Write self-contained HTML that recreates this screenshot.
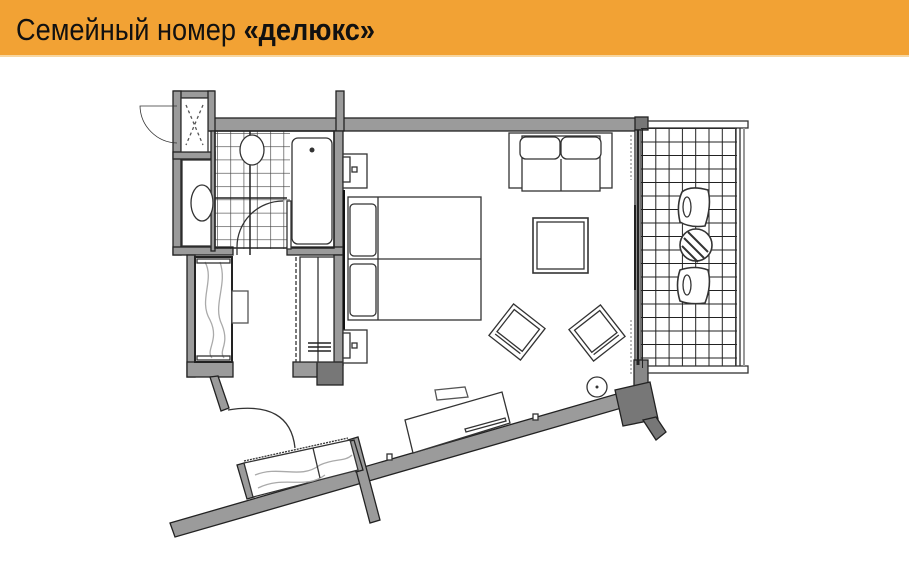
<!DOCTYPE html>
<html><head><meta charset="utf-8"><style>
html,body{margin:0;padding:0;background:#fff;}
svg{display:block}
</style></head><body>
<svg width="909" height="576" viewBox="0 0 909 576" xmlns="http://www.w3.org/2000/svg">
<defs>
<pattern id="tiles" x="217" y="133" width="13.3" height="13.3" patternUnits="userSpaceOnUse">
<path d="M0 0V13.3M0 0H13.3" stroke="#444" stroke-width="1.3" fill="none"/>
</pattern>
<pattern id="bal" x="642" y="128" width="13.3" height="13.5" patternUnits="userSpaceOnUse">
<path d="M0 0V13.5M0 0H13.3" stroke="#222" stroke-width="2" fill="none"/>
</pattern>
</defs>
<rect x="0" y="0" width="909" height="55" fill="#f2a234"/>
<rect x="0" y="55" width="909" height="2" fill="#f7d6a0"/>
<text x="16" y="40" font-family="Liberation Sans, sans-serif" font-size="31" fill="#111" textLength="359" lengthAdjust="spacingAndGlyphs">Семейный номер <tspan font-weight="bold">«делюкс»</tspan></text>

<g stroke="#222" stroke-width="1.3" fill="#9b9b9b">
<rect x="208" y="118" width="430" height="13"/>
<rect x="336" y="91" width="8" height="40"/>
<rect x="635" y="117" width="13" height="13" fill="#777"/>
<rect x="174" y="91" width="40" height="7"/>
<rect x="208" y="91" width="7" height="40"/>
<rect x="173" y="91" width="8" height="164"/>
<rect x="173" y="152" width="42" height="7"/>
<rect x="334" y="131" width="9" height="124"/>
<rect x="173" y="247" width="60" height="8"/>
<rect x="287" y="247" width="56" height="8"/>
<rect x="211" y="131" width="4" height="120"/>
<rect x="187" y="255" width="8" height="122"/>
<rect x="187" y="362" width="46" height="15"/>
<rect x="334" y="255" width="9" height="110"/>
<rect x="293" y="362" width="26" height="15"/>
<rect x="317" y="362" width="26" height="23" fill="#777"/>
<polygon points="210,377 218,376 229,408 221,411"/>
<polygon points="170,523 620,393 625,407 175,537"/>
<polygon points="348,440 358,437 380,520 370,523"/>
<rect x="635" y="130" width="6" height="245" fill="#fff"/>
<rect x="634" y="360" width="14" height="30" fill="#888"/>
<polygon points="615,390 650,382 658,419 623,426" fill="#777"/>
<polygon points="643,420 656,417 666,432 656,440" fill="#777"/>
<polygon points="237,465 244,463 254,497 247,499"/>
<polygon points="347,442 354,440 363,470 356,472"/>
</g>
<line x1="638" y1="130" x2="638" y2="365" stroke="#222" stroke-width="3"/>
<line x1="635" y1="205" x2="635" y2="290" stroke="#222" stroke-width="2"/>
<line x1="631" y1="135" x2="631" y2="180" stroke="#777" stroke-dasharray="2,2"/>
<line x1="631" y1="320" x2="631" y2="375" stroke="#777" stroke-dasharray="2,2"/>

<g stroke-width="1.3">
<rect x="181" y="98" width="27" height="54" fill="#fff" stroke="#333"/>
<path d="M186 105L203 145M203 105L186 145" stroke="#555" stroke-dasharray="3,3"/>
<path d="M177 106 L140 106 A38 38 0 0 0 177 143" fill="none" stroke="#333" stroke-width="0.8"/>

<rect x="215" y="131" width="75" height="118" fill="url(#tiles)"/>
<rect x="215" y="131" width="119" height="117" fill="none" stroke="#222" stroke-width="1.5"/>
<line x1="250" y1="131" x2="250" y2="255" stroke="#222" stroke-width="1.5"/>
<line x1="215" y1="198" x2="287" y2="198" stroke="#222" stroke-width="1.5"/>
<ellipse cx="252" cy="150" rx="12" ry="15" fill="#fff" stroke="#333"/>
<rect x="182" y="160" width="29" height="86" fill="#fff" stroke="#333"/>
<ellipse cx="202" cy="203" rx="11" ry="18" fill="#fff" stroke="#333"/>
<rect x="292" y="138" width="40" height="106" rx="6" fill="#fff" stroke="#333"/>
<circle cx="312" cy="150" r="2.5" fill="#333"/>
<rect x="287" y="201" width="4" height="48" fill="#fff" stroke="#333"/>
<path d="M237 247 A46 46 0 0 1 283 201" fill="none" stroke="#333"/>
<line x1="237" y1="247" x2="237" y2="255" stroke="#333"/>

<rect x="195" y="257" width="37" height="105" fill="#fff" stroke="#222" stroke-width="2"/>
<path d="M205 262 C215 280 198 300 210 320 C220 340 205 350 212 358" fill="none" stroke="#aaa"/>
<path d="M220 262 C228 285 212 305 222 325 C230 345 218 350 224 358" fill="none" stroke="#aaa"/>
<rect x="197" y="259" width="33" height="4" fill="none" stroke="#333"/>
<rect x="197" y="356" width="33" height="4" fill="none" stroke="#333"/>
<rect x="232" y="291" width="16" height="32" fill="#fff" stroke="#555"/>

<rect x="300" y="257" width="34" height="105" fill="#fff" stroke="#333"/>
<line x1="318" y1="257" x2="318" y2="362" stroke="#333"/>
<line x1="296" y1="257" x2="296" y2="362" stroke="#333" stroke-dasharray="4,2"/>
<path d="M308 343H331M308 347H331M308 351H331" stroke="#222" stroke-width="1.4"/>
<line x1="344" y1="190" x2="344" y2="330" stroke="#111" stroke-width="2"/>

<rect x="348" y="197" width="133" height="123" fill="#fff" stroke="#333"/>
<line x1="348" y1="259" x2="481" y2="259" stroke="#333"/>
<line x1="378" y1="197" x2="378" y2="320" stroke="#333"/>
<rect x="350" y="204" width="26" height="52" rx="4" fill="#fff" stroke="#333"/>
<rect x="350" y="264" width="26" height="52" rx="4" fill="#fff" stroke="#333"/>
<rect x="343" y="154" width="24" height="34" fill="#fff" stroke="#333"/>
<rect x="343" y="157" width="7" height="25" fill="#fff" stroke="#333"/>
<rect x="352" y="167" width="5" height="5" fill="#fff" stroke="#333"/>
<rect x="343" y="330" width="24" height="33" fill="#fff" stroke="#333"/>
<rect x="343" y="333" width="7" height="25" fill="#fff" stroke="#333"/>
<rect x="352" y="343" width="5" height="5" fill="#fff" stroke="#333"/>

<rect x="509" y="133" width="103" height="55" fill="#fff" stroke="#333"/>
<rect x="522" y="136" width="78" height="55" fill="#fff" stroke="#333"/>
<rect x="520" y="137" width="40" height="22" rx="6" fill="#fff" stroke="#333"/>
<rect x="561" y="137" width="40" height="22" rx="6" fill="#fff" stroke="#333"/>
<line x1="561" y1="159" x2="561" y2="191" stroke="#333"/>

<rect x="533" y="218" width="55" height="55" fill="#fff" stroke="#333" stroke-width="1.6"/>
<rect x="537" y="222" width="47" height="47" fill="#fff" stroke="#333"/>

<g transform="translate(517,332) rotate(38)">
<rect x="-20" y="-20" width="40" height="40" fill="#fff" stroke="#333"/>
<rect x="-16" y="-16" width="32" height="28" fill="#fff" stroke="#333"/>
<line x1="-16" y1="15" x2="16" y2="15" stroke="#333"/>
</g>
<g transform="translate(597,333) rotate(-38)">
<rect x="-20" y="-20" width="40" height="40" fill="#fff" stroke="#333"/>
<rect x="-16" y="-16" width="32" height="28" fill="#fff" stroke="#333"/>
<line x1="-16" y1="15" x2="16" y2="15" stroke="#333"/>
</g>
<circle cx="597" cy="387" r="10" fill="#fff" stroke="#333"/>
<circle cx="597" cy="387" r="1.5" fill="#333"/>

<polygon points="435,390 465,387 468,397 437,400" fill="#fff" stroke="#555"/>
<polygon points="405,420 502,392 510,423 413,453" fill="#fff" stroke="#333"/>
<polygon points="465,429 505,418 506,421 466,432" fill="#fff" stroke="#333"/>
<rect x="387" y="454" width="5" height="6" fill="#fff" stroke="#333"/>
<rect x="533" y="414" width="5" height="6" fill="#fff" stroke="#333"/>

<path d="M228 410 Q290 400 295 448" fill="none" stroke="#333"/>
<polygon points="244,463 350,440 358,470 253,497" fill="#fff" stroke="#333"/>
<path d="M255 475 C280 465 300 480 320 465 C335 458 345 462 352 455" fill="none" stroke="#aaa"/>
<path d="M258 488 C285 475 305 490 325 475" fill="none" stroke="#aaa"/>
<line x1="313" y1="448" x2="320" y2="478" stroke="#333"/>
<line x1="244" y1="461" x2="348" y2="438" stroke="#333" stroke-dasharray="2,1"/>

<rect x="641" y="128" width="96" height="240" fill="url(#bal)"/>
<rect x="648" y="121" width="100" height="7" fill="#fff" stroke="#333"/>
<rect x="648" y="366" width="100" height="7" fill="#fff" stroke="#333"/>
<line x1="736" y1="128" x2="736" y2="366" stroke="#333"/>
<line x1="740" y1="128" x2="740" y2="366" stroke="#333"/>
<line x1="744" y1="128" x2="744" y2="366" stroke="#999" stroke-width="2"/>
<path d="M682 192 Q690 185 708 190 Q712 205 705 226 Q690 228 680 222 Q676 205 682 192Z" fill="#fff" stroke="#333" stroke-width="1.6"/>
<ellipse cx="687" cy="207" rx="4" ry="10" fill="none" stroke="#333"/>
<circle cx="696" cy="245" r="16" fill="#fff" stroke="#333" stroke-width="1.6"/>
<path d="M684 238L704 258M682 246L698 262M688 232L708 252" stroke="#333" stroke-width="2"/>
<path d="M680 270 Q695 265 708 270 Q712 285 705 303 Q690 305 680 301 Q675 285 680 270Z" fill="#fff" stroke="#333" stroke-width="1.6"/>
<ellipse cx="687" cy="285" rx="4" ry="10" fill="none" stroke="#333"/>
</g>
</svg>
</body></html>
